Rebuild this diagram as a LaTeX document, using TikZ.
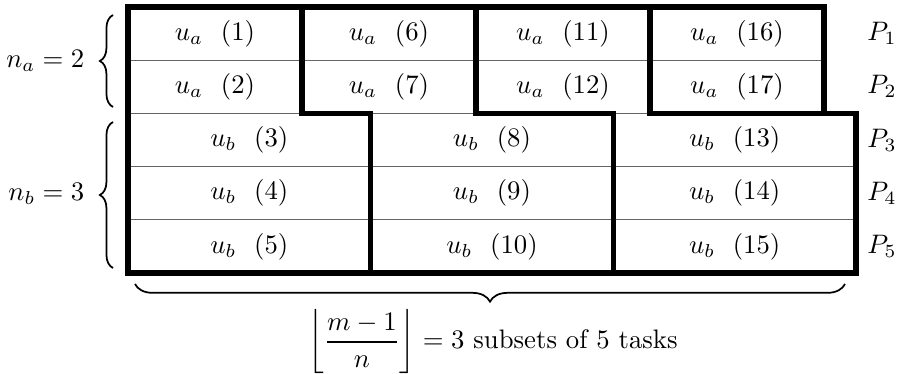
\documentclass[tikz,border=0pt]{standalone}
\usepackage{amsmath}
\usetikzlibrary{decorations.pathreplacing}
\begin{document}
\begin{tikzpicture}[x=0.374pt, y=-0.374pt, semithick,
    rejilla/.style={draw=black!60, line width=0.45pt},
    borde/.style={draw=black, line width=1.9pt, line join=miter},
    llave/.style={decorate, decoration={brace, amplitude=4.9pt}, line width=0.65pt}]
    \useasboundingbox (0,0) rectangle (906,374);

    % Lineas finas entre procesadores
    \draw[rejilla] (128,60.2) -- (824,60.2);
    \foreach \y in {113.4,166.6,219.8}
        \draw[rejilla] (128,\y) -- (856,\y);

    % Tareas de tipo a (dos filas) y de tipo b (tres filas)
    \foreach \c in {0,...,3}
        \foreach \r in {0,1} {
            \pgfmathtruncatemacro{\t}{5*\c+\r+1}
            \node (ua\t) at ({215+174*\c},{33.6+53.2*\r}) {$u_a\ \ (\t)$};
        }
    \foreach \c in {0,...,2}
        \foreach \r in {0,1,2} {
            \pgfmathtruncatemacro{\t}{5*\c+\r+3}
            \node (ub\t) at ({249.3+242.7*\c},{140+53.2*\r}) {$u_b\ \ (\t)$};
        }

    % Procesadores
    \foreach \r in {1,...,5}
        \node (p\r) at (882,{33.6+53.2*(\r-1)}) {$P_\r$};

    % Bordes gruesos de los subconjuntos de 5 tareas
    \draw[borde] (128,7) -- (302,7) -- (302,113.4) -- (370.7,113.4) -- (370.7,273) -- (128,273) -- cycle;
    \draw[borde] (302,7) -- (476,7) -- (476,113.4) -- (613.3,113.4) -- (613.3,273) -- (370.7,273);
    \draw[borde] (476,7) -- (650,7) -- (650,113.4) -- (856,113.4) -- (856,273) -- (613.3,273);
    \draw[borde] (650,7) -- (824,7) -- (824,113.4) -- (650,113.4);

    % Llaves y etiquetas
    \draw[llave] (113,107) -- (113,15);
    \node[anchor=east] (na) at (94,61) {$n_a = 2$};
    \draw[llave] (113,268) -- (113,122);
    \node[anchor=east] (nb) at (94,194) {$n_b = 3$};
    \draw[llave, decoration={amplitude=6.6pt}] (845,284) -- (135,284);
    \node (total) at (493,342) {$\left\lfloor\dfrac{m-1}{n}\right\rfloor = 3$ subsets of 5 tasks};
\end{tikzpicture}
\end{document}
